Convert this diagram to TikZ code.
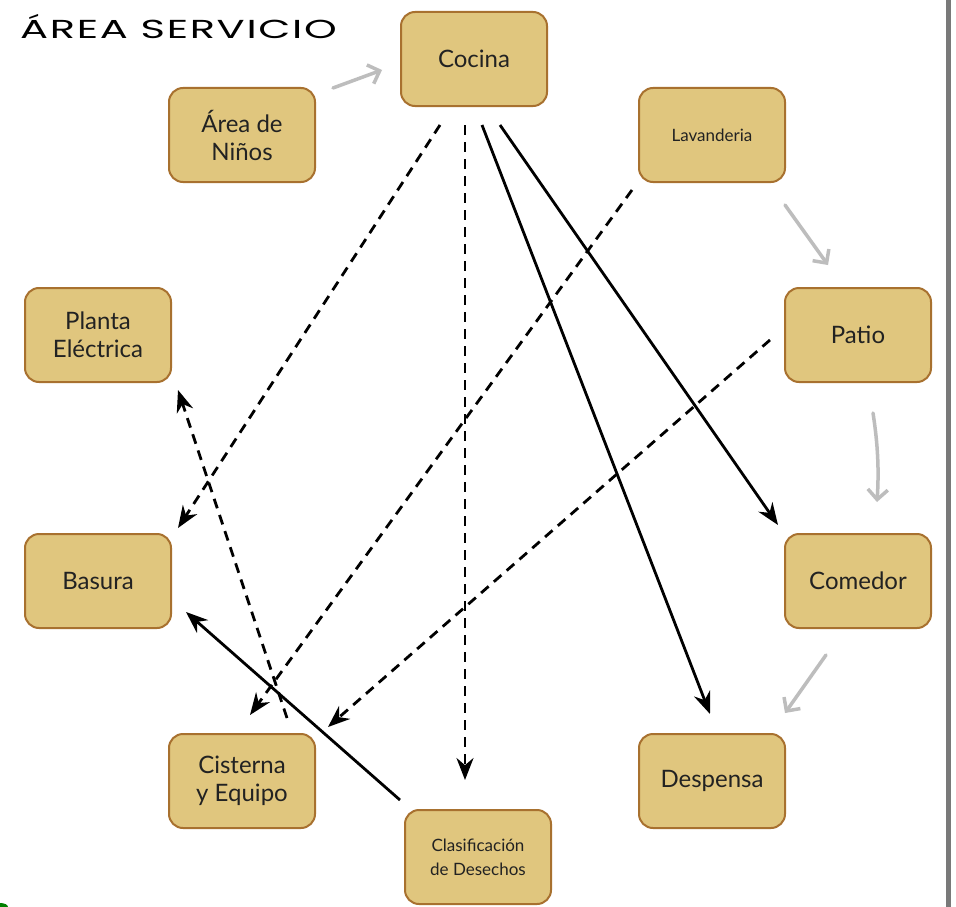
\documentclass[tikz,border=0pt]{standalone}
\usepackage{fontspec}
\setmainfont{Lato}
\newfontfamily\titlefont[LetterSpace=4]{Poppins}
\usetikzlibrary{arrows.meta,calc}

\definecolor{boxfill}{HTML}{E0C67E}
\definecolor{boxline}{HTML}{A8712F}
\definecolor{flowgray}{HTML}{BDBDBD}
\definecolor{txt}{HTML}{222222}

\tikzset{
  room/.style={draw=boxline, fill=boxfill, line width=2pt, rounded corners=14pt,
    minimum width=146pt, minimum height=94pt, align=center, text=txt,
    font=\fontsize{24}{28}\selectfont},
  smalltext/.style={font=\fontsize{17}{24}\selectfont},
  dasharrow/.style={black, line width=2.8pt, dash pattern=on 10pt off 7pt,
    -{Stealth[length=22pt,width=17pt]}},
  solidarrow/.style={black, line width=2.8pt, -{Stealth[length=22pt,width=17pt]}},
  grayarrow/.style={flowgray, line width=3.5pt, line cap=round,
    -{Straight Barb[length=10pt,width=20pt,line width=3.5pt]}}
}

\begin{document}
\begin{tikzpicture}[x=1pt,y=-1pt]
  \useasboundingbox (0,0) rectangle (956,907);
  \fill[white] (0,0) rectangle (956,907);

  % right-hand frame rule
  \fill[gray!95!black] (946,0) rectangle (951,907);
  % corner mark
  \fill[green!50!black] (0,907) ellipse (8pt and 4pt);

  % heading, set in an extended face
  \node[anchor=west, inner sep=0pt, font=\titlefont\fontsize{26}{28}\selectfont] (title) at (20,27) {\scalebox{1.6}[1]{ÁREA SERVICIO}};

  % rooms
  \node[room] (cocina)    at (474,59)  {Cocina};
  \node[room] (ninos)     at (242,135) {Área de\\Niños};
  \node[room, smalltext] (lavanderia) at (712,135) {Lavanderia};
  \node[room] (planta)    at (98,335)  {Planta\\Eléctrica};
  \node[room] (patio)     at (858,335) {Patio};
  \node[room] (basura)    at (98,581)  {Basura};
  \node[room] (comedor)   at (858,581) {Comedor};
  \node[room] (cisterna)  at (242,781) {Cisterna\\y Equipo};
  \node[room] (despensa)  at (712,781) {Despensa};
  \node[room, smalltext] (desechos) at (478,857) {Clasificación\\de Desechos};

  % circulation sequence
  \draw[grayarrow] ($(ninos.center)+(91,-47)$) -- ($(cocina.center)+(-92,11)$);
  \draw[grayarrow] ($(lavanderia.center)+(73,70)$) -- ($(patio.center)+(-30,-70)$);
  \draw[grayarrow] ($(patio.center)+(15,78)$) .. controls ($(patio.center)+(20,110)$) and ($(comedor.center)+(21,-110)$) .. ($(comedor.center)+(19,-79)$);
  \draw[grayarrow] ($(comedor.center)+(-32,74)$) -- ($(despensa.center)+(73,-68)$);

  % secondary links
  \draw[dasharrow] ($(cocina.center)+(-34,66)$) -- ($(basura.center)+(80,-53)$);
  \draw[dasharrow] ($(cocina.center)+(-9,66)$) -- ($(desechos.center)+(-13,-77)$);
  \draw[dasharrow] ($(lavanderia.center)+(-80,55)$) -- ($(cisterna.center)+(8,-66)$);
  \draw[dasharrow] ($(patio.center)+(-88,5)$) -- ($(cisterna.center)+(86,-54)$);
  \draw[dasharrow] ($(cisterna.center)+(45,-63)$) -- ($(planta.center)+(80,55)$);

  % direct links
  \draw[solidarrow] ($(cocina.center)+(8,66)$) -- ($(despensa.center)+(-2,-67)$);
  \draw[solidarrow] ($(cocina.center)+(26,66)$) -- ($(comedor.center)+(-80,-56)$);
  \draw[solidarrow] ($(desechos.center)+(-78,-57)$) -- ($(basura.center)+(88,31)$);
\end{tikzpicture}
\end{document}
